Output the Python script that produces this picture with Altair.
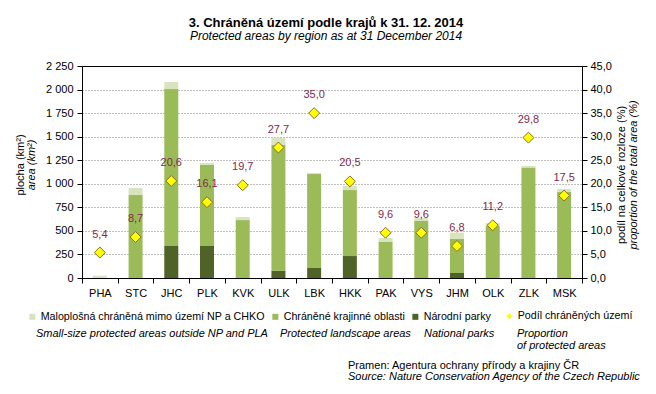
import altair as alt
import pandas as pd

regions = ["PHA", "STC", "JHC", "PLK", "KVK", "ULK", "LBK", "HKK", "PAK", "VYS", "JHM", "OLK", "ZLK", "MSK"]
national_parks = [0, 0, 340, 340, 0, 78, 106, 233, 0, 0, 53, 0, 0, 0]
landscape_areas = [0, 880, 1665, 860, 615, 1333, 997, 700, 382, 605, 361, 552, 1174, 912]
small_areas = [25, 75, 75, 20, 32, 74, 11, 46, 42, 30, 67, 31, 14, 32]
share_pct = [5.4, 8.7, 20.6, 16.1, 19.7, 27.7, 35.0, 20.5, 9.6, 9.6, 6.8, 11.2, 29.8, 17.5]

type_names = ["Maloplošná chráněná mimo území NP a CHKO", "Chráněné krajinné oblasti", "Národní parky"]
type_colors = ["#d7e4bd", "#9bbb59", "#4f6228"]
share_name = "Podíl chráněných území"

rows = []
for i, r in enumerate(regions):
    for order, (t, v) in enumerate(zip(
            [type_names[2], type_names[1], type_names[0]],
            [national_parks[i], landscape_areas[i], small_areas[i]])):
        rows.append({"region": r, "typ": t, "value": v, "ord": order})
bars_df = pd.DataFrame(rows)
share_df = pd.DataFrame({"region": regions, "share": share_pct})

FONT = "Liberation Sans"

x_enc = alt.X("region:N", sort=regions,
              scale=alt.Scale(paddingInner=0, paddingOuter=0),
              axis=alt.Axis(title=None, tickBand="extent", tickSize=5, labelPadding=4,
                            labelAngle=0, labelFontSize=11, labelColor="black",
                            domainColor="black", tickColor="black", grid=False))

bars = alt.Chart(bars_df).mark_bar(size=14).encode(
    x=x_enc,
    y=alt.Y("value:Q", stack="zero",
            scale=alt.Scale(domain=[0, 2250], nice=False),
            axis=alt.Axis(title=None, orient="left", values=list(range(0, 2251, 250)),
                          labelExpr="replace(format(datum.value, ','), ',', ' ')",
                          grid=True, gridDash=[1, 2], gridColor="#7f7f7f",
                          gridOpacity={"condition": {"test": "datum.value == 0 || datum.value == 2250", "value": 0}, "value": 1},
                          tickSize=5, labelPadding=4, labelFontSize=11, labelColor="black",
                          domainColor="black", tickColor="black")),
    color=alt.Color("typ:N", scale=alt.Scale(domain=type_names, range=type_colors),
                    legend=alt.Legend(orient="none", legendX=-55, legendY=245, direction="horizontal",
                                      title=None, labelFont=FONT, labelFontSize=10.7, labelColor="black",
                                      symbolType="square", symbolSize=36, symbolStrokeWidth=0,
                                      columnPadding=5, labelOffset=3, padding=0, labelLimit=400)),
    order=alt.Order("ord:Q"),
)

points = alt.Chart().mark_point(filled=True, fill="#ffff00", stroke="#8b6d1f",
                                strokeWidth=1, size=120, opacity=1).encode(
    shape=alt.Shape("lbl:N", scale=alt.Scale(domain=[share_name], range=["diamond"]),
                    legend=alt.Legend(orient="none", legendX=422, legendY=245, title=None,
                                      labelFont=FONT, labelFontSize=10.7, labelColor="black",
                                      symbolSize=36, symbolFillColor="#ffff00",
                                      symbolStrokeColor="#8b6d1f", symbolStrokeWidth=1,
                                      labelOffset=3, padding=0, labelLimit=400)),
).transform_calculate(lbl=f"'{share_name}'")

labels = alt.Chart().mark_text(dy=-18, fontSize=11, font=FONT, color="#7f2a4a").encode(
    text="lab:N"
).transform_calculate(lab="replace(format(datum.share, '.1f'), '.', ',')")

share_layer = alt.layer(points, labels, data=share_df).encode(
    x=alt.X("region:N", sort=regions),
    y=alt.Y("share:Q", scale=alt.Scale(domain=[0, 45], nice=False),
            axis=alt.Axis(title=None, orient="right", values=list(range(0, 46, 5)),
                          labelExpr="replace(format(datum.value, '.1f'), '.', ',')",
                          grid=False, tickSize=5, labelPadding=3, labelFontSize=11,
                          labelColor="black", domainColor="black", tickColor="black")),
)

one = alt.Data(values=[{"k": 1}])


def note(text, x, y, italic=False, angle=0, align="left"):
    props = dict(fontSize=11, font=FONT, color="black", align=align, baseline="middle",
                 lineBreak="\n", lineHeight=12)
    if italic:
        props["fontStyle"] = "italic"
    if angle:
        props["angle"] = angle
    return alt.Chart(one).mark_text(**props).encode(
        x=alt.value(x), y=alt.value(y), text=alt.value(text))


annotations = [
    note("plocha (km²)", -61, 99, angle=270, align="center"),
    note("area (km²)", -50, 99, italic=True, angle=270, align="center"),
    note("podíl na celkové rozloze (%)", 540, 109, angle=270, align="center"),
    note("proportion of the total area (%)", 552, 109, italic=True, angle=270, align="center"),
    note("Small-size protected areas outside NP and PLA", -46, 268, italic=True),
    note("Protected landscape areas", 198, 268, italic=True),
    note("National parks", 342, 268, italic=True),
    note("Proportion", 435, 268, italic=True),
    note("of protected areas", 435, 280, italic=True),
    note("Pramen: Agentura ochrany přírody a krajiny ČR", 266, 300),
    note("Source: Nature Conservation Agency of the Czech Republic", 266, 311, italic=True),
]

chart = alt.layer(bars, share_layer, *annotations).resolve_scale(
    y="independent", shape="independent", color="independent"
).properties(
    width=500, height=212,
    autosize=alt.AutoSizeParams(type="none"),
    padding={"left": 74, "top": 58, "right": 66, "bottom": 110},
    title=alt.TitleParams("3. Chráněná území podle krajů k 31. 12. 2014",
                          subtitle="Protected areas by region as at 31 December 2014",
                          font=FONT, fontSize=13, fontWeight="bold", color="black",
                          subtitleFont=FONT, subtitleFontSize=12, subtitleFontStyle="italic",
                          subtitleColor="black", subtitlePadding=1,
                          anchor="middle", offset=18, dx=-6),
).configure_view(stroke="black", strokeWidth=1).configure_axis(labelFont=FONT)

chart.save("out.html", embed_options={"renderer": "svg", "actions": False})
